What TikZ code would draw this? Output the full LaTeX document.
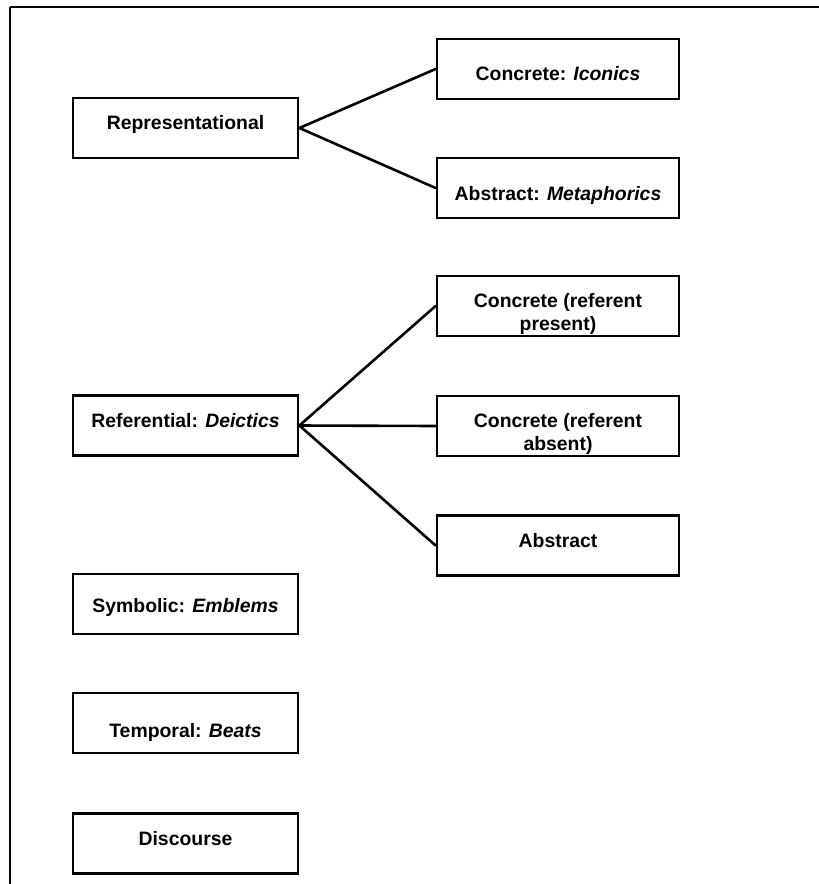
\documentclass[tikz,border=0pt]{standalone}
\usepackage{fontspec}
\setmainfont{Liberation Sans}
\begin{document}
\begin{tikzpicture}[x=1pt,y=-1pt,
  lbox/.style={draw, line width=2.8pt, minimum width=225pt, minimum height=60pt, inner sep=0pt},
  rbox/.style={draw, line width=2.8pt, minimum width=242pt, minimum height=60pt, inner sep=0pt},
  txt/.style={anchor=base, inner sep=0pt, font=\fontsize{19.4}{23}\selectfont\bfseries},
  conn/.style={line width=2.6pt, line cap=round}]
\useasboundingbox (0,0) rectangle (819,884);
% frame
\coordinate (fl) at (10,884);
\coordinate (ft) at (10,7);
\coordinate (fr) at (819,7);
\draw[line width=1.6pt] (fl) -- (ft);
\draw[line width=2.2pt] (ft) -- (fr);
% left boxes
\node[lbox] (rep) at (185.5,128) {};
\node[lbox] (dei) at (185.5,425.5) {};
\node[lbox] (sym) at (185.5,604) {};
\node[lbox] (tem) at (185.5,723) {};
\node[lbox] (dis) at (185.5,843.5) {};
% right boxes
\node[rbox] (ico) at (558,69) {};
\node[rbox] (met) at (558,188) {};
\node[rbox] (pre) at (558,306) {};
\node[rbox] (abs) at (558,426) {};
\node[rbox] (abt) at (558,545.5) {};
% texts
\node[txt] (rep-t) at (185.5,129) {Representational};
\node[txt] (dei-t) at (185.5,427) {Referential: \textit{Deictics}};
\node[txt] (sym-t) at (185.5,612) {Symbolic: \textit{Emblems}};
\node[txt] (tem-t) at (185.5,737) {Temporal: \textit{Beats}};
\node[txt] (dis-t) at (185.5,845) {Discourse};
\node[txt] (ico-t) at (558,80) {Concrete: \textit{Iconics}};
\node[txt] (met-t) at (558,200) {Abstract: \textit{Metaphorics}};
\node[txt] (pre-t1) at (558,307) {Concrete (referent};
\node[txt] (pre-t2) at (558,330) {present)};
\node[txt] (abs-t1) at (558,427) {Concrete (referent};
\node[txt] (abs-t2) at (558,450) {absent)};
\node[txt] (abt-t) at (558,547) {Abstract};
% connectors
\draw[conn] (rep.east) -- (ico.west);
\draw[conn] (rep.east) -- (met.west);
\draw[conn] (dei.east) -- (pre.west);
\draw[conn] (dei.east) -- (abs.west);
\draw[conn] (dei.east) -- (abt.west);
\end{tikzpicture}
\end{document}
